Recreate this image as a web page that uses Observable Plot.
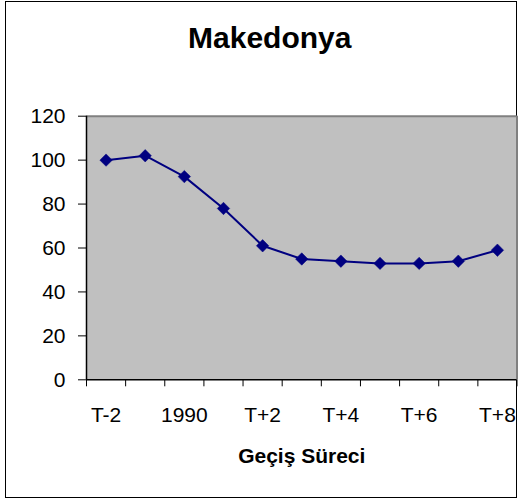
<!DOCTYPE html>
<html>
<head>
<meta charset="utf-8">
<script src="https://cdn.jsdelivr.net/npm/d3@7"></script>
<script src="https://cdn.jsdelivr.net/npm/@observablehq/plot@0.6"></script>
<style>
  html, body { margin: 0; padding: 0; background: #fff; }
  #wrap { position: relative; width: 525px; height: 501px; }
  #border { position: absolute; left: 5px; top: 1px; width: 510px; height: 495px; border: 1.5px solid #000; pointer-events: none; }
  svg { position: absolute; left: 0; top: 0; }
</style>
</head>
<body>
<div id="wrap"><div id="border"></div></div>
<script>
const titleText = "Makedonya";
const xTitle = "Geçiş Süreci";
const categories = ["T-2", "T-1", "1990", "T+1", "T+2", "T+3", "T+4", "T+5", "T+6", "T+7", "T+8"];
const values = [100, 102, 92.5, 78, 61, 55, 54, 53, 53, 54, 59];
const shownLabels = ["T-2", "1990", "T+2", "T+4", "T+6", "T+8"];
const yTicks = [0, 20, 40, 60, 80, 100, 120];

const data = categories.map((c, i) => ({category: c, index: i, value: values[i]}));
const pos = (c) => categories.indexOf(c) + 0.5;
const navy = "#000080";
const font = "'Liberation Sans', Arial, Helvetica, sans-serif";

const chart = Plot.plot({
  width: 525,
  height: 501,
  marginLeft: 86,
  marginRight: 8.5,
  marginTop: 115.7,
  marginBottom: 121.7,
  style: {fontFamily: font, fontSize: "21px", color: "#000", background: "transparent"},
  x: {domain: [0, categories.length], label: null},
  y: {domain: [0, 120], label: null},
  marks: [
    Plot.frame({fill: "#c0c0c0", stroke: null}),
    Plot.ruleY([120], {stroke: "#808080", strokeWidth: 2}),
    Plot.ruleX([categories.length], {stroke: "#808080", strokeWidth: 2}),
    Plot.ruleY([0], {stroke: "#000", strokeWidth: 1.5}),
    Plot.ruleX([0], {stroke: "#000", strokeWidth: 1.5}),
    Plot.axisY({ticks: yTicks, tickSize: 8, tickPadding: 13, fontSize: 21, label: null, stroke: "#000", strokeWidth: 1}),
    Plot.axisX({ticks: d3.range(categories.length + 1), tickSize: 7, tickFormat: () => "", label: null, stroke: "#000", strokeWidth: 1}),
    Plot.axisX({ticks: shownLabels.map(pos), tickSize: 0, tickPadding: 27.5, fontSize: 21, label: null,
      tickFormat: (v) => categories[Math.round(v - 0.5)]}),
    Plot.line(data, {x: (d) => d.index + 0.5, y: "value", stroke: navy, strokeWidth: 2}),
    Plot.dot(data, {x: (d) => d.index + 0.5, y: "value", symbol: "diamond2", r: 5.6, fill: navy, stroke: navy, strokeWidth: 0.5}),
    Plot.text([titleText], {frameAnchor: "top", dx: -32, dy: -89.5, fontSize: 30, fontWeight: "bold", fill: "#000"}),
    Plot.text([xTitle], {frameAnchor: "bottom", dy: 83, fontSize: 21, fontWeight: "bold", fill: "#000"})
  ]
});
document.getElementById("wrap").appendChild(chart);
</script>
</body>
</html>
